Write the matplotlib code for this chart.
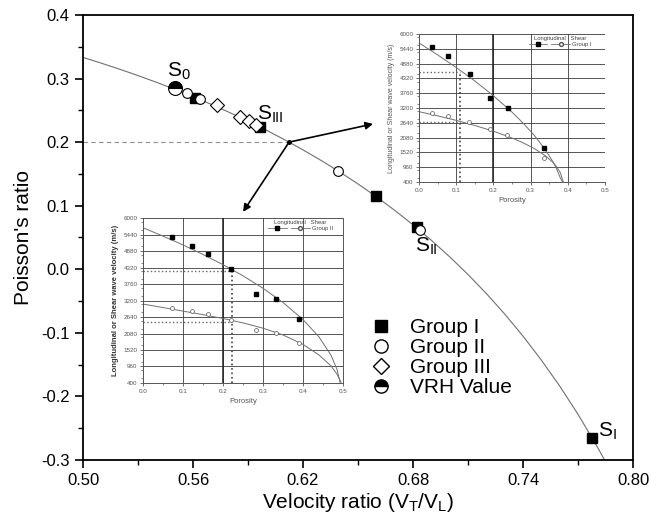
#!/usr/bin/env python3

# Poisson's ratio vs. velocity ratio, with two porosity insets.

import matplotlib
matplotlib.use("Agg")
import matplotlib.pyplot as plt
from matplotlib.lines import Line2D
from matplotlib.ticker import MultipleLocator, FixedLocator, FormatStrFormatter

plt.rcParams['font.family'] = ['Liberation Sans', 'DejaVu Sans']
plt.rcParams['mathtext.default'] = 'regular'

###############################################################################
# Data
###############################################################################

# Theoretical curve of the main plot.
curve_x = [0.50, 0.51, 0.52, 0.53, 0.54, 0.55, 0.56, 0.57, 0.58, 0.59,
           0.60, 0.61, 0.62, 0.63, 0.64, 0.65, 0.66, 0.67, 0.68, 0.69,
           0.70, 0.71, 0.72, 0.73, 0.74, 0.75, 0.76, 0.77, 0.78, 0.785]
curve_y = [0.3333, 0.3242, 0.3147, 0.3047, 0.2942, 0.2832, 0.2716, 0.2594,
           0.2465, 0.2330, 0.2188, 0.2037, 0.1878, 0.1710, 0.1531, 0.1342,
           0.1141, 0.0927, 0.0699, 0.0456, 0.0196, -0.0083, -0.0382,
           -0.0704, -0.1052, -0.1429, -0.1837, -0.2282, -0.2768, -0.3028]

group1_x = [0.5611, 0.5966, 0.660, 0.682, 0.7777]
group1_y = [0.270, 0.224, 0.115, 0.067, -0.265]
group2_x = [0.5567, 0.5638, 0.639, 0.6838]
group2_y = [0.277, 0.268, 0.155, 0.062]
group3_x = [0.5731, 0.5857, 0.5906, 0.5944]
group3_y = [0.258, 0.240, 0.233, 0.227]
vrh_x = [0.5502]
vrh_y = [0.285]

x_ticks = [0.50, 0.56, 0.62, 0.68, 0.74, 0.80]
x_minor = [0.53, 0.59, 0.65, 0.71, 0.77]

# Design point (nu = 0.2) and where the arrows point to.
design_x = 0.6124
design_y = 0.2
arrow1_to = (0.6582, 0.2286)
arrow2_to = (0.5873, 0.0903)

point_labels = ["S$_{0}$", "S$_{III}$", "S$_{II}$", "S$_{I}$"]
point_label_xy = [(0.5458, 0.3025), (0.5949, 0.235), (0.6811, 0.0274),
                  (0.7810, -0.2635)]

# Inset 1 (Group I)
in1_phi_L = [0.036, 0.079, 0.137, 0.191, 0.240, 0.337]
in1_vel_L = [5520, 5170, 4480, 3590, 3190, 1680]
in1_phi_S = [0.034, 0.077, 0.135, 0.191, 0.237, 0.336]
in1_vel_S = [3020, 2900, 2660, 2390, 2180, 1320]
in1_fit_phi_L = [0.0, 0.05, 0.10, 0.15, 0.20, 0.25, 0.28, 0.31, 0.34, 0.36,
                 0.37, 0.38, 0.386]
in1_fit_vel_L = [5660, 5210, 4733, 4222, 3664, 3045, 2627, 2163, 1615, 1169,
                 897, 551, 400]
in1_fit_phi_S = [0.0, 0.05, 0.10, 0.15, 0.20, 0.25, 0.28, 0.31, 0.34, 0.36,
                 0.37, 0.38, 0.388]
in1_fit_vel_S = [3060, 2903, 2731, 2539, 2321, 2065, 1882, 1665, 1390, 1143,
                 978, 750, 400]
in1_mark_phi = 0.11
in1_mark_L = 4570
in1_mark_S = 2660

# Inset 2 (Group II)
in2_phi = [0.072, 0.122, 0.163, 0.220, 0.283, 0.332, 0.391]
in2_vel_L = [5345, 5060, 4778, 4269, 3421, 3240, 2572]
in2_vel_S = [2957, 2844, 2732, 2538, 2199, 2087, 1768]
in2_fit_phi_L = [0.0, 0.05, 0.10, 0.15, 0.20, 0.25, 0.30, 0.35, 0.40, 0.44,
                 0.47, 0.485, 0.493]
in2_fit_vel_L = [5670, 5386, 5085, 4763, 4416, 4038, 3615, 3133, 2555, 1963,
                 1342, 861, 400]
in2_fit_phi_S = [0.0, 0.05, 0.10, 0.15, 0.20, 0.25, 0.30, 0.35, 0.40, 0.44,
                 0.47, 0.485, 0.495]
in2_fit_vel_S = [3080, 2960, 2840, 2720, 2590, 2440, 2260, 2030, 1710, 1350,
                 980, 700, 420]
in2_mark_phi = 0.222
in2_mark_L = 4200
in2_mark_S = 2480

vel_ticks = [400, 960, 1520, 2080, 2640, 3200, 3760, 4320, 4880, 5440, 6000]
phi_ticks = [0.0, 0.1, 0.2, 0.3, 0.4, 0.5]

###############################################################################
# Main plot
###############################################################################

fig = plt.figure(figsize=(6.51, 5.17), dpi=100)
ax = fig.add_axes([0.1275, 0.1103, 0.8449, 0.8607])

ax.plot(curve_x, curve_y, color='#707070', lw=0.8, zorder=2)
ax.plot([0.5, design_x], [design_y, design_y], color='#909090', lw=0.8,
        ls=(0, (4, 3)), zorder=2)
ax.plot([design_x], [design_y], 'o', color='k', ms=2.5, zorder=4)

for target in (arrow1_to, arrow2_to):
    ax.annotate('', xy=target, xytext=(design_x, design_y),
                arrowprops=dict(arrowstyle='-|>', color='k', lw=1.2,
                                mutation_scale=11, shrinkA=0, shrinkB=0))

ax.plot(group1_x, group1_y, 's', color='k', ms=6.5, zorder=3)
ax.plot(group2_x, group2_y, 'o', mfc='white', mec='k', mew=0.8, ms=7,
        zorder=4)
ax.plot(group3_x, group3_y, 'D', mfc='white', mec='k', mew=0.8, ms=7,
        zorder=5)
ax.plot(vrh_x, vrh_y, 'o', fillstyle='top', mfc='k', mfcalt='white',
        mec='k', mew=0.8, ms=10, zorder=6)

for lab, (lx, ly) in zip(point_labels, point_label_xy):
    ax.text(lx, ly, lab, fontsize=15, ha='left', va='baseline', zorder=6)

ax.set_xlim(0.50, 0.80)
ax.set_ylim(-0.3, 0.4)
ax.xaxis.set_major_locator(FixedLocator(x_ticks))
ax.xaxis.set_minor_locator(FixedLocator(x_minor))
ax.yaxis.set_major_locator(MultipleLocator(0.1))
ax.yaxis.set_minor_locator(MultipleLocator(0.05))
ax.xaxis.set_major_formatter(FormatStrFormatter('%.2f'))
ax.yaxis.set_major_formatter(FormatStrFormatter('%.1f'))
ax.tick_params(which='major', direction='out', length=6, width=1.2,
               labelsize=12, top=False, right=False)
ax.tick_params(which='minor', direction='out', length=3.5, width=1.0,
               top=False, right=False)
for sp in ax.spines.values():
    sp.set_linewidth(1.3)

ax.set_xlabel("Velocity ratio (V$_T$/V$_L$)", fontsize=15, labelpad=2)
ax.set_ylabel("Poisson's ratio", fontsize=15, labelpad=6)

handles = [
    Line2D([], [], ls='none', marker='s', color='k', ms=8.5),
    Line2D([], [], ls='none', marker='o', mfc='white', mec='k', ms=9.5),
    Line2D([], [], ls='none', marker='D', mfc='white', mec='k', ms=8.5),
    Line2D([], [], ls='none', marker='o', fillstyle='top', mfc='k',
           mfcalt='white', mec='k', ms=9.5),
]
ax.legend(handles, ["Group I", "Group II", "Group III", "VRH Value"],
          loc='upper left', bbox_to_anchor=(0.5227, 0.319), fontsize=15,
          frameon=False, handlelength=1.0, handletextpad=0.88,
          labelspacing=0.05, borderpad=0, borderaxespad=0)

###############################################################################
# Insets
###############################################################################

def draw_inset(rect, phi_L, vel_L, phi_S, vel_S, fit_L, fit_S, mark,
               group, label_kw, legend_anchor, right_spine):
    ia = fig.add_axes(rect)
    ia.set_facecolor('white')
    ia.set_xlim(0.0, 0.5)
    ia.set_ylim(400, 6000)
    ia.set_xticks(phi_ticks)
    ia.set_yticks(vel_ticks)
    ia.xaxis.set_minor_locator(MultipleLocator(0.05))
    ia.yaxis.set_minor_locator(MultipleLocator(280))
    ia.xaxis.set_major_formatter(FormatStrFormatter('%.1f'))
    ia.grid(True, which='major', color='#3a3a3a', lw=0.6)
    ia.tick_params(which='major', labelsize=4.5, length=2.5, width=0.6,
                   colors='#555555', pad=1.5)
    ia.tick_params(which='minor', length=1.5, width=0.5, colors='#555555')
    ia.spines['top'].set_visible(False)
    ia.spines['right'].set_visible(right_spine)
    for side in ('left', 'bottom', 'right'):
        ia.spines[side].set_color('#555555')
        ia.spines[side].set_linewidth(0.7)
    # the porosity 0.2 grid line is heavier in the original
    ia.axvline(0.2, color='#222222', lw=1.1)

    mphi, mL, mS = mark
    ia.plot([0, mphi], [mL, mL], ls=':', color='#666666', lw=1.0)
    ia.plot([0, mphi], [mS, mS], ls=':', color='#666666', lw=1.0)
    ia.plot([mphi, mphi], [400, mL], ls=':', color='#444444', lw=1.2)

    ia.plot(fit_L[0], fit_L[1], color='#707070', lw=0.7)
    ia.plot(fit_S[0], fit_S[1], color='#707070', lw=0.7)
    ia.plot(phi_L, vel_L, 's', color='k', ms=2.6)
    ia.plot(phi_S, vel_S, 'o', mfc='white', mec='#555555', mew=0.5, ms=2.8)

    ia.set_xlabel("Porosity", fontsize=5.5, color='#555555', labelpad=3)
    ia.set_ylabel("Longitudinal or Shear wave velocity (m/s)", labelpad=3,
                  **label_kw)

    hL = Line2D([], [], color='#707070', lw=0.6, marker='s', mfc='k',
                mec='k', ms=2.8)
    hS = Line2D([], [], color='#707070', lw=0.6, marker='o', mfc='white',
                mec='#555555', ms=2.8)
    leg = ia.legend([hL, hS], ["", group], ncol=2, loc='upper right',
                    bbox_to_anchor=legend_anchor,
                    title="Longitudinal   Shear", title_fontsize=4.2,
                    fontsize=4.2, frameon=False, handlelength=3.2,
                    handletextpad=0.4, columnspacing=0.3, borderpad=0,
                    borderaxespad=0, labelspacing=0.2)
    leg.get_title().set_color('#444444')
    for t in leg.get_texts():
        t.set_color('#444444')
    return ia


draw_inset([0.6436, 0.648, 0.2857, 0.2863],
           in1_phi_L, in1_vel_L, in1_phi_S, in1_vel_S,
           (in1_fit_phi_L, in1_fit_vel_L), (in1_fit_phi_S, in1_fit_vel_S),
           (in1_mark_phi, in1_mark_L, in1_mark_S), "Group I",
           dict(fontsize=5, color='#555555'), (0.93, 0.985), False)

draw_inset([0.2197, 0.2592, 0.3072, 0.3191],
           in2_phi, in2_vel_L, in2_phi, in2_vel_S,
           (in2_fit_phi_L, in2_fit_vel_L), (in2_fit_phi_S, in2_fit_vel_S),
           (in2_mark_phi, in2_mark_L, in2_mark_S), "Group II",
           dict(fontsize=5.5, color='#333333', fontweight='bold'),
           (0.95, 0.99), True)

plt.savefig("out.png", dpi=100)
plt.close()
